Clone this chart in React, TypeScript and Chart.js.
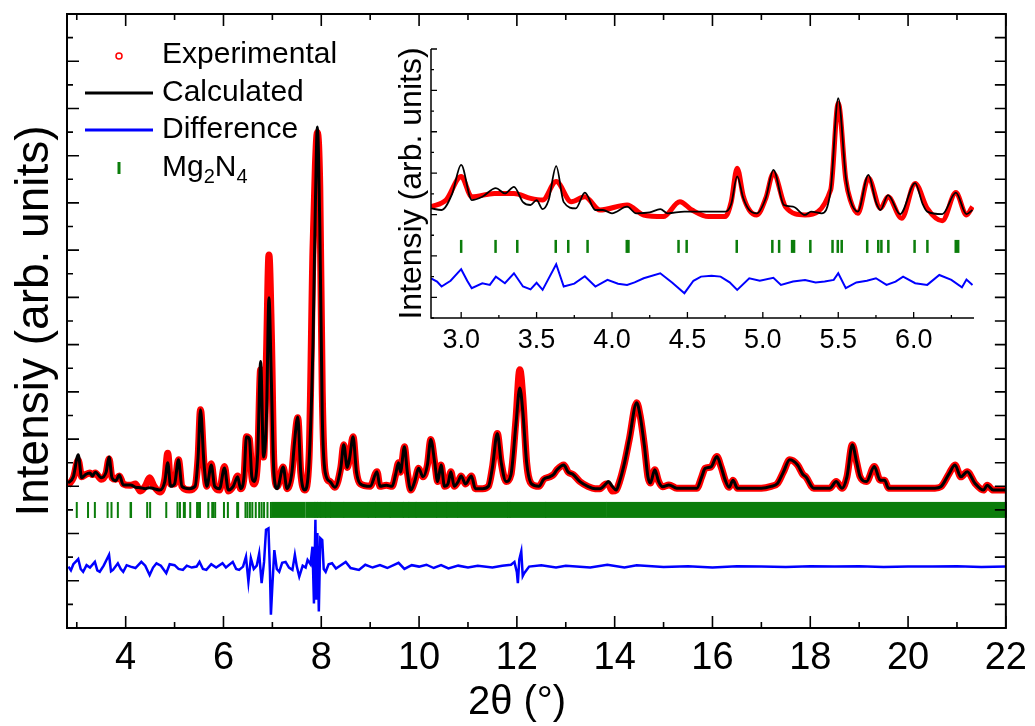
import React, { useEffect, useRef } from 'react';
import { Chart, registerables } from 'chart.js';

Chart.register(...registerables);

const FONT_FAMILY = '"Liberation Sans", Arial, Helvetica, sans-serif';
const RED = '#ff0000';
const BLACK = '#000000';
const BLUE = '#0000ff';
const GREEN = '#0b7d0b';

// ---------------- main pattern ----------------
const mainTheta = [
  2.82, 2.93, 3.03, 3.10, 3.18, 3.27, 3.32, 3.38, 3.50, 3.60,
  3.66, 3.72, 3.80, 3.87, 3.95, 4.10, 4.20, 4.30, 4.40, 4.49,
  4.58, 4.70, 4.80, 4.86, 4.92, 5.00, 5.08, 5.15, 5.30, 5.42,
  5.48, 5.53, 5.60, 5.66, 5.75, 5.82, 5.92, 6.02, 6.10, 6.20,
  6.29, 6.35, 6.42, 6.47, 6.53, 6.58, 6.63, 6.70, 6.76, 6.82,
  6.88, 6.93, 6.98, 7.03, 7.10, 7.22, 7.30, 7.40, 7.45, 7.52,
  7.58, 7.66, 7.75, 7.83, 7.88, 7.92, 7.97, 8.02, 8.08, 8.18,
  8.28, 8.40, 8.46, 8.53, 8.58, 8.65, 8.72, 8.80, 9.00, 9.14,
  9.20, 9.33, 9.45, 9.52, 9.58, 9.62, 9.70, 9.76, 9.83, 9.91,
  9.99, 10.08, 10.17, 10.24, 10.32, 10.38, 10.45, 10.52, 10.59, 10.65,
  10.72, 10.80, 10.86, 10.95, 11.07, 11.15, 11.30, 11.42, 11.50, 11.60,
  11.68, 11.78, 11.88, 11.98, 12.06, 12.12, 12.20, 12.30, 12.45, 12.55,
  12.67, 12.75, 12.82, 12.96, 13.05, 13.15, 13.29, 13.45, 13.60, 13.70,
  13.82, 13.87, 13.95, 14.03, 14.10, 14.20, 14.30, 14.45, 14.52, 14.61,
  14.68, 14.73, 14.82, 14.90, 14.98, 15.11, 15.27, 15.50, 15.68, 15.78,
  15.85, 15.97, 16.09, 16.18, 16.26, 16.34, 16.42, 16.51, 16.80, 17.00,
  17.20, 17.33, 17.45, 17.58, 17.74, 17.85, 17.91, 18.07, 18.40, 18.53,
  18.65, 18.75, 18.86, 18.95, 19.02, 19.15, 19.31, 19.43, 19.52, 19.60,
  20.00, 20.30, 20.55, 20.67, 20.84, 20.96, 21.08, 21.21, 21.37, 21.54,
  21.62, 21.74, 22.00,
];

const mainCalc = [
  3.07, 3.20, 3.67, 3.18, 3.25, 3.28, 3.22, 3.30, 3.18, 3.30,
  3.62, 3.18, 3.12, 3.24, 3.03, 3.03, 2.98, 2.97, 2.95, 2.97,
  2.95, 2.92, 3.10, 3.50, 3.00, 3.05, 3.56, 3.00, 2.95, 3.00,
  3.60, 4.62, 3.50, 3.00, 3.45, 3.00, 2.95, 3.39, 2.92, 3.00,
  3.20, 2.95, 3.20, 4.05, 4.00, 3.20, 3.10, 3.70, 5.64, 3.62,
  4.50, 6.99, 5.20, 3.30, 2.95, 3.41, 2.95, 3.30, 3.90, 4.47,
  3.30, 2.92, 3.50, 6.00, 9.00, 10.61, 8.50, 4.50, 3.30, 3.10,
  2.98, 3.40, 3.88, 3.40, 3.60, 4.05, 3.30, 3.05, 3.00, 3.31,
  3.00, 3.02, 3.00, 3.25, 3.50, 3.30, 3.84, 3.30, 2.92, 3.10,
  3.38, 3.20, 3.45, 3.99, 3.50, 3.10, 3.45, 3.00, 3.05, 3.31,
  3.00, 3.10, 3.22, 3.05, 3.22, 2.95, 2.95, 3.00, 3.40, 4.12,
  3.50, 3.10, 3.25, 4.30, 5.08, 4.60, 3.50, 3.05, 3.00, 3.15,
  3.20, 3.25, 3.35, 3.45, 3.30, 3.25, 3.10, 3.00, 2.95, 2.95,
  3.05, 3.10, 3.00, 2.92, 3.10, 3.49, 4.00, 4.77, 4.50, 3.84,
  3.20, 3.07, 3.35, 3.10, 2.99, 3.03, 2.96, 2.96, 2.96, 3.20,
  3.38, 3.41, 3.63, 3.40, 3.13, 2.98, 3.13, 2.96, 2.96, 2.96,
  3.00, 3.06, 3.30, 3.56, 3.45, 3.25, 3.20, 2.96, 2.96, 3.10,
  2.96, 3.20, 3.88, 3.50, 3.20, 3.10, 3.42, 3.13, 3.13, 2.96,
  2.96, 2.96, 2.96, 2.99, 3.27, 3.45, 3.20, 3.31, 3.06, 2.92,
  3.02, 2.92, 2.92,
];

const mainExp = [
  3.02, 3.18, 3.55, 3.20, 3.25, 3.28, 3.25, 3.28, 3.15, 3.28,
  3.58, 3.18, 3.15, 3.22, 3.05, 3.02, 3.05, 2.90, 3.00, 3.18,
  3.00, 2.88, 3.15, 3.70, 3.05, 3.05, 3.56, 3.00, 2.92, 3.00,
  3.60, 4.62, 3.50, 3.00, 3.48, 3.00, 2.92, 3.42, 2.90, 3.00,
  3.22, 2.95, 3.20, 4.05, 4.00, 3.20, 3.05, 3.60, 5.47, 3.62,
  5.80, 7.90, 6.20, 3.50, 3.00, 3.41, 2.95, 3.30, 3.90, 4.45,
  3.30, 2.92, 3.60, 8.00, 9.80, 10.49, 9.30, 5.00, 3.30, 3.10,
  2.98, 3.40, 3.88, 3.40, 3.60, 4.05, 3.30, 3.05, 3.00, 3.31,
  3.00, 3.02, 3.00, 3.25, 3.50, 3.30, 3.84, 3.30, 2.92, 3.10,
  3.38, 3.20, 3.45, 3.99, 3.50, 3.10, 3.45, 3.00, 3.05, 3.31,
  3.00, 3.10, 3.22, 3.05, 3.22, 2.95, 2.95, 3.00, 3.40, 4.12,
  3.50, 3.10, 3.25, 4.40, 5.47, 4.90, 3.50, 3.05, 3.00, 3.15,
  3.20, 3.25, 3.35, 3.45, 3.30, 3.25, 3.10, 3.00, 2.95, 2.95,
  3.05, 3.05, 2.90, 2.92, 3.10, 3.49, 4.00, 4.77, 4.50, 3.84,
  3.20, 3.07, 3.35, 3.10, 2.99, 3.03, 2.96, 2.96, 2.96, 3.20,
  3.38, 3.41, 3.63, 3.40, 3.13, 2.98, 3.13, 2.96, 2.96, 2.96,
  3.00, 3.06, 3.30, 3.56, 3.45, 3.25, 3.20, 2.96, 2.96, 3.10,
  2.96, 3.20, 3.88, 3.50, 3.20, 3.10, 3.42, 3.13, 3.13, 2.96,
  2.96, 2.96, 2.96, 2.99, 3.27, 3.45, 3.20, 3.31, 3.06, 2.92,
  3.02, 2.92, 2.92,
];

const diffTheta = [
  2.83, 2.88, 2.93, 3.03, 3.08, 3.13, 3.20, 3.27, 3.37, 3.42,
  3.47, 3.55, 3.66, 3.70, 3.74, 3.84, 3.90, 3.95, 4.02, 4.10,
  4.20, 4.32, 4.40, 4.49, 4.56, 4.63, 4.72, 4.83, 4.90, 5.00,
  5.08, 5.17, 5.25, 5.35, 5.45, 5.51, 5.58, 5.65, 5.75, 5.85,
  5.98, 6.05, 6.19, 6.26, 6.32, 6.40, 6.46, 6.51, 6.56, 6.62,
  6.68, 6.73, 6.78, 6.83, 6.87, 6.92, 6.95, 6.97, 7.00, 7.04,
  7.09, 7.14, 7.20, 7.27, 7.34, 7.41, 7.46, 7.50, 7.55, 7.62,
  7.68, 7.72, 7.78, 7.82, 7.85, 7.88, 7.90, 7.92, 7.95, 7.98,
  8.02, 8.05, 8.09, 8.15, 8.22, 8.30, 8.40, 8.50, 8.60, 8.77,
  8.90, 9.05, 9.20, 9.35, 9.58, 9.70, 9.85, 10.00, 10.15, 10.30,
  10.45, 10.60, 10.80, 11.00, 11.20, 11.50, 11.70, 11.88, 11.95, 12.00,
  12.02, 12.05, 12.09, 12.12, 12.15, 12.25, 12.50, 12.80, 13.00, 13.50,
  13.85, 14.20, 14.45, 15.00, 15.50, 16.00, 16.50, 17.00, 17.50, 18.00,
  18.50, 19.00, 19.50, 20.00, 20.50, 21.00, 21.50, 22.00,
];

const diffValues = [
  1.30, 1.22, 1.35, 1.46, 1.25, 1.19, 1.33, 1.28, 1.40, 1.22,
  1.19, 1.32, 1.55, 1.20, 1.23, 1.37, 1.25, 1.19, 1.33, 1.30,
  1.27, 1.40, 1.32, 1.12, 1.28, 1.37, 1.32, 1.16, 1.35, 1.33,
  1.25, 1.23, 1.32, 1.28, 1.30, 1.40, 1.25, 1.23, 1.35, 1.28,
  1.37, 1.28, 1.40, 1.25, 1.23, 1.30, 1.51, 0.98, 1.48, 1.25,
  1.32, 1.58, 0.95, 1.40, 2.08, 2.11, 1.20, 0.28, 0.90, 1.65,
  1.25, 1.19, 1.38, 1.40, 1.28, 1.23, 1.55, 1.30, 1.09, 1.32,
  1.28, 1.44, 1.35, 1.72, 0.52, 2.29, 0.60, 2.01, 0.35, 1.90,
  1.86, 1.25, 1.19, 1.35, 1.37, 1.26, 1.33, 1.40, 1.27, 1.23,
  1.34, 1.28, 1.33, 1.27, 1.38, 1.25, 1.33, 1.30, 1.34, 1.27,
  1.33, 1.26, 1.32, 1.28, 1.32, 1.28, 1.32, 1.34, 1.40, 1.18,
  0.95, 1.45, 1.62, 1.10, 1.16, 1.30, 1.33, 1.28, 1.32, 1.28,
  1.34, 1.28, 1.33, 1.29, 1.31, 1.28, 1.31, 1.30, 1.29, 1.31,
  1.30, 1.31, 1.29, 1.30, 1.30, 1.31, 1.29, 1.30,
];

// Bragg reflection positions (isolated marks) and dense reflection ranges
const reflectionTheta = [
  3.00, 3.23, 3.37, 3.63, 3.71, 3.84, 4.10, 4.11, 4.44, 4.50,
  4.83, 5.06, 5.11, 5.19, 5.21, 5.32, 5.46, 5.50, 5.52, 5.69,
  5.77, 5.79, 5.83, 6.01, 6.09, 6.28, 6.30, 6.45, 6.49, 6.54,
  6.59, 6.66, 6.73, 6.78, 6.83, 6.90, 6.97,
];
const reflectionBands = [
  [7.00, 7.66], [7.70, 7.86], [7.88, 7.91], [7.93, 7.98], [8.00, 8.08],
  [8.10, 8.18], [8.20, 8.45], [8.47, 8.95], [8.97, 9.10], [9.12, 9.40],
  [9.42, 9.67], [9.69, 9.78], [9.80, 9.93], [9.95, 10.35], [10.37, 10.56],
  [10.58, 10.78], [10.80, 11.80], [11.82, 11.85], [11.87, 12.58], [12.60, 13.82],
  [13.85, 22.00],
];
const MAIN_TICK_ROW = 2.5;
const mainXLabels = [4, 6, 8, 10, 12, 14, 16, 18, 20, 22];
const legendLabels = ['Experimental', 'Calculated', 'Difference', 'Mg\u2082N\u2084'];

// ---------------- inset (low-angle zoom) ----------------
const insetCalcTheta = [
  2.80, 2.87, 2.94, 3.00, 3.07, 3.14, 3.23, 3.29, 3.35, 3.41,
  3.46, 3.50, 3.54, 3.58, 3.63, 3.68, 3.76, 3.82, 3.89, 3.94,
  4.00, 4.10, 4.16, 4.25, 4.32, 4.37, 4.48, 4.61, 4.75, 4.79,
  4.83, 4.87, 4.91, 4.96, 5.02, 5.07, 5.14, 5.20, 5.28, 5.32,
  5.39, 5.45, 5.50, 5.55, 5.58, 5.63, 5.70, 5.75, 5.78, 5.83,
  5.91, 6.01, 6.06, 6.09, 6.19, 6.28, 6.35, 6.39,
];
const insetCalc = [
  2.15, 2.11, 2.50, 3.20, 2.35, 2.43, 2.64, 2.51, 2.67, 2.30,
  2.23, 2.35, 2.13, 2.35, 3.17, 2.30, 2.15, 2.53, 2.11, 2.11,
  2.03, 2.19, 2.03, 2.05, 2.13, 2.03, 2.07, 2.07, 2.07, 2.25,
  2.92, 2.40, 2.11, 2.03, 2.40, 3.08, 2.23, 2.19, 1.99, 2.07,
  2.03, 2.60, 4.81, 2.90, 2.35, 2.07, 2.96, 2.30, 2.11, 2.47,
  2.01, 2.76, 2.25, 2.07, 2.01, 2.53, 2.01, 2.11,
];
const insetExpTheta = [
  2.80, 2.90, 3.00, 3.07, 3.22, 3.35, 3.46, 3.54, 3.63, 3.73,
  3.82, 3.92, 4.10, 4.21, 4.34, 4.45, 4.53, 4.64, 4.75, 4.79,
  4.83, 4.87, 4.91, 4.96, 5.02, 5.07, 5.15, 5.28, 5.45, 5.50,
  5.55, 5.58, 5.63, 5.70, 5.78, 5.83, 5.92, 6.01, 6.09, 6.19,
  6.28, 6.35, 6.39,
];
const insetExp = [
  2.19, 2.35, 2.92, 2.43, 2.51, 2.51, 2.39, 2.35, 2.80, 2.31,
  2.43, 2.11, 2.23, 1.99, 1.95, 2.31, 2.11, 1.95, 1.95, 2.30,
  3.12, 2.45, 2.11, 1.99, 2.40, 3.00, 2.19, 1.99, 2.60, 4.69,
  2.85, 2.35, 2.03, 2.88, 2.15, 2.43, 1.91, 2.75, 2.15, 1.85,
  2.53, 1.99, 2.19,
];
const insetDiffTheta = [
  2.80, 2.84, 2.87, 2.93, 3.00, 3.04, 3.07, 3.14, 3.19, 3.23,
  3.29, 3.35, 3.41, 3.46, 3.50, 3.54, 3.63, 3.68, 3.75, 3.82,
  3.89, 3.97, 4.04, 4.10, 4.15, 4.21, 4.32, 4.40, 4.48, 4.54,
  4.59, 4.66, 4.72, 4.78, 4.83, 4.91, 4.98, 5.07, 5.12, 5.20,
  5.28, 5.35, 5.41, 5.47, 5.50, 5.55, 5.62, 5.69, 5.75, 5.82,
  5.88, 5.93, 6.01, 6.09, 6.17, 6.25, 6.32, 6.35, 6.39,
];
const insetDiff = [
  0.46, 0.38, 0.26, 0.40, 0.68, 0.40, 0.22, 0.34, 0.30, 0.50,
  0.34, 0.58, 0.26, 0.19, 0.35, 0.18, 0.80, 0.26, 0.33, 0.51,
  0.26, 0.42, 0.33, 0.30, 0.36, 0.46, 0.58, 0.35, 0.10, 0.40,
  0.50, 0.52, 0.50, 0.36, 0.18, 0.46, 0.40, 0.47, 0.30, 0.38,
  0.42, 0.36, 0.38, 0.42, 0.58, 0.22, 0.36, 0.40, 0.46, 0.30,
  0.38, 0.50, 0.34, 0.30, 0.54, 0.42, 0.24, 0.43, 0.30,
];
const insetReflections = [
  3.000, 3.228, 3.372, 3.627, 3.710, 3.838, 4.098, 4.109, 4.441, 4.495,
  4.827, 5.063, 5.108, 5.194, 5.207, 5.315, 5.462, 5.497, 5.523, 5.692,
  5.765, 5.786, 5.832, 6.006, 6.091, 6.279, 6.295,
];
const insetXLabels = [3.0, 3.5, 4.0, 4.5, 5.0, 5.5, 6.0];
const INSET_TICK_ROW = 1.23;

const pts = (xs: number[], ys: number[]) => xs.map((x, i) => ({ x, y: ys[i] }));
const font = (size: number) => `${size}px ${FONT_FAMILY}`;

function drawRich(ctx: CanvasRenderingContext2D, text: string, x: number, y: number, size: number) {
  // splits text into normal runs and subscript-digit runs
  const runs: { t: string; sub: boolean }[] = [];
  for (const ch of text) {
    const c = ch.charCodeAt(0);
    const sub = c >= 0x2080 && c <= 0x2089;
    const t = sub ? String(c - 0x2080) : ch;
    const last = runs[runs.length - 1];
    if (last && last.sub === sub) last.t += t;
    else runs.push({ t, sub });
  }
  let cx = x;
  for (const r of runs) {
    ctx.font = font(r.sub ? Math.round(size * 0.68) : size);
    ctx.fillText(r.t, cx, r.sub ? y + size * 0.33 : y);
    cx += ctx.measureText(r.t).width;
  }
}

const mainDecor = {
  id: 'mainDecor',
  beforeDatasetsDraw(chart: any) {
    const { ctx, scales } = chart;
    const xs = scales.x;
    const ys = scales.y;
    const yc = ys.getPixelForValue(MAIN_TICK_ROW);
    ctx.save();
    ctx.fillStyle = GREEN;
    for (const [a, b] of reflectionBands) {
      const x0 = xs.getPixelForValue(a) - 1;
      const x1 = xs.getPixelForValue(b) + 1;
      ctx.fillRect(x0, yc - 8, x1 - x0, 16);
    }
    ctx.restore();
  },
  afterDraw(chart: any) {
    const { ctx, chartArea: a, scales } = chart;
    const xs = scales.x;
    const ys = scales.y;
    ctx.save();
    ctx.strokeStyle = BLACK;
    ctx.lineWidth = 2;
    ctx.strokeRect(a.left, a.top, a.right - a.left, a.bottom - a.top);
    ctx.lineWidth = 1.6;
    ctx.beginPath();
    for (let k = Math.ceil(xs.min); k <= Math.floor(xs.max); k++) {
      const px = xs.getPixelForValue(k);
      const len = k % 2 === 0 ? 12 : 6;
      ctx.moveTo(px, a.bottom);
      ctx.lineTo(px, a.bottom - len);
      ctx.moveTo(px, a.top);
      ctx.lineTo(px, a.top + len);
    }
    for (let k = Math.ceil(ys.min * 2); k <= Math.floor(ys.max * 2); k++) {
      const py = ys.getPixelForValue(k / 2);
      const len = k % 2 === 0 ? 12 : 6;
      ctx.moveTo(a.left, py);
      ctx.lineTo(a.left + len, py);
      ctx.moveTo(a.right, py);
      ctx.lineTo(a.right - 11, py);
    }
    ctx.stroke();

    // legend
    const rows = [55, 93, 130, 168];
    const sx0 = 85;
    const sx1 = 153;
    const tx = 162;
    ctx.lineWidth = 1.5;
    ctx.strokeStyle = RED;
    ctx.beginPath();
    ctx.arc((sx0 + sx1) / 2, rows[0] + 1, 3, 0, Math.PI * 2);
    ctx.stroke();
    ctx.lineWidth = 3;
    ctx.strokeStyle = BLACK;
    ctx.beginPath();
    ctx.moveTo(sx0, rows[1]);
    ctx.lineTo(sx1, rows[1]);
    ctx.stroke();
    ctx.strokeStyle = BLUE;
    ctx.beginPath();
    ctx.moveTo(sx0, rows[2]);
    ctx.lineTo(sx1, rows[2]);
    ctx.stroke();
    ctx.strokeStyle = GREEN;
    ctx.beginPath();
    ctx.moveTo((sx0 + sx1) / 2, rows[3] - 6);
    ctx.lineTo((sx0 + sx1) / 2, rows[3] + 6);
    ctx.stroke();
    ctx.fillStyle = BLACK;
    ctx.textBaseline = 'middle';
    ctx.textAlign = 'left';
    legendLabels.forEach((t, i) => drawRich(ctx, t, tx, rows[i], 30));

    // x axis title
    ctx.textAlign = 'center';
    ctx.font = font(40);
    ctx.fillText('2\u03b8 (\u00b0)', 517, 703);
    ctx.restore();
  },
};

const insetDecor = {
  id: 'insetDecor',
  afterDraw(chart: any) {
    const { ctx, chartArea: a, scales } = chart;
    const xs = scales.x;
    const ys = scales.y;
    ctx.save();
    ctx.strokeStyle = BLACK;
    ctx.lineWidth = 1.5;
    ctx.beginPath();
    ctx.moveTo(a.left, a.top);
    ctx.lineTo(a.left, a.bottom);
    ctx.lineTo(a.right, a.bottom);
    ctx.stroke();
    ctx.lineWidth = 1.3;
    ctx.beginPath();
    for (let k = Math.ceil(xs.min * 4); k <= Math.floor(xs.max * 4); k++) {
      const px = xs.getPixelForValue(k / 4);
      const len = k % 2 === 0 ? 6 : 3;
      ctx.moveTo(px, a.bottom);
      ctx.lineTo(px, a.bottom - len);
    }
    for (let k = Math.ceil(ys.min * 2); k <= Math.floor(ys.max * 2); k++) {
      const py = ys.getPixelForValue(k / 2);
      const len = k % 2 === 0 ? 6 : 3;
      ctx.moveTo(a.left, py);
      ctx.lineTo(a.left + len, py);
    }
    ctx.stroke();
    ctx.restore();
  },
};

function buildMain(): any {
  return {
    type: 'scatter',
    data: {
      datasets: [
        {
          label: 'Calculated', data: pts(mainTheta, mainCalc), showLine: true,
          borderColor: BLACK, borderWidth: 3, pointRadius: 0,
          cubicInterpolationMode: 'monotone', order: 1,
        },
        {
          label: 'Experimental', data: pts(mainTheta, mainExp), showLine: true,
          borderColor: RED, borderWidth: 7, pointRadius: 0,
          cubicInterpolationMode: 'monotone', order: 3,
        },
        {
          label: 'Difference', data: pts(diffTheta, diffValues), showLine: true,
          borderColor: BLUE, borderWidth: 2.5, pointRadius: 0, order: 2,
        },
        {
          label: 'Mg\u2082N\u2084', data: reflectionTheta.map((x) => ({ x, y: MAIN_TICK_ROW })),
          showLine: false, pointStyle: 'line', pointRotation: 90, pointRadius: 8,
          pointBorderWidth: 2, borderColor: GREEN, pointBorderColor: GREEN, order: 2,
        },
      ],
    },
    options: {
      animation: false, responsive: false, devicePixelRatio: 1, events: [],
      layout: { padding: { top: 14, right: 25, left: 0, bottom: 0 } },
      plugins: { legend: { display: false }, tooltip: { enabled: false } },
      scales: {
        x: {
          type: 'linear', min: 2.8, max: 22,
          grid: { display: false, drawTicks: false }, border: { display: false },
          afterBuildTicks: (s: any) => { s.ticks = mainXLabels.map((v) => ({ value: v })); },
          ticks: {
            autoSkip: false, maxRotation: 0, minRotation: 0, padding: 8,
            color: BLACK, font: { family: FONT_FAMILY, size: 38 },
            callback: (v: number) => String(Math.round(v)),
          },
          afterFit: (s: any) => { s.height = 98; },
        },
        y: {
          type: 'linear', min: 0, max: 13,
          grid: { display: false, drawTicks: false }, border: { display: false },
          ticks: { display: false },
          title: {
            display: true, text: 'Intensiy (arb. units)', color: BLACK,
            font: { family: FONT_FAMILY, size: 46 }, padding: { top: 8, bottom: 0 },
          },
          afterFit: (s: any) => { s.width = 67; },
        },
      },
    },
    plugins: [mainDecor],
  };
}

function buildInset(): any {
  return {
    type: 'scatter',
    data: {
      datasets: [
        {
          label: 'Calculated', data: pts(insetCalcTheta, insetCalc), showLine: true,
          borderColor: BLACK, borderWidth: 1.8, pointRadius: 0,
          cubicInterpolationMode: 'monotone', order: 1,
        },
        {
          label: 'Experimental', data: pts(insetExpTheta, insetExp), showLine: true,
          borderColor: RED, borderWidth: 5, pointRadius: 0,
          cubicInterpolationMode: 'monotone', order: 3,
        },
        {
          label: 'Difference', data: pts(insetDiffTheta, insetDiff), showLine: true,
          borderColor: BLUE, borderWidth: 2, pointRadius: 0, order: 2,
        },
        {
          label: 'Mg\u2082N\u2084', data: insetReflections.map((x) => ({ x, y: INSET_TICK_ROW })),
          showLine: false, pointStyle: 'line', pointRotation: 90, pointRadius: 6.5,
          pointBorderWidth: 2.5, borderColor: GREEN, pointBorderColor: GREEN, order: 2,
        },
      ],
    },
    options: {
      animation: false, responsive: false, devicePixelRatio: 1, events: [],
      layout: { padding: { top: 19, right: 36, left: 0, bottom: 0 } },
      plugins: { legend: { display: false }, tooltip: { enabled: false } },
      scales: {
        x: {
          type: 'linear', min: 2.8, max: 6.4,
          grid: { display: false, drawTicks: false }, border: { display: false },
          afterBuildTicks: (s: any) => { s.ticks = insetXLabels.map((v) => ({ value: v })); },
          ticks: {
            autoSkip: false, maxRotation: 0, minRotation: 0, padding: 6,
            color: BLACK, font: { family: FONT_FAMILY, size: 27 },
            callback: (v: number) => Number(v).toFixed(1),
          },
          afterFit: (s: any) => { s.height = 52; },
        },
        y: {
          type: 'linear', min: -0.5, max: 6,
          grid: { display: false, drawTicks: false }, border: { display: false },
          ticks: { display: false },
          title: {
            display: true, text: 'Intensiy (arb. units)', color: BLACK,
            font: { family: FONT_FAMILY, size: 32 }, padding: { top: 13, bottom: 0 },
          },
          afterFit: (s: any) => { s.width = 51; },
        },
      },
    },
    plugins: [insetDecor],
  };
}

export default function App() {
  const mainRef = useRef<HTMLCanvasElement>(null);
  const insetRef = useRef<HTMLCanvasElement>(null);

  useEffect(() => {
    const main = new Chart(mainRef.current as HTMLCanvasElement, buildMain());
    const inset = new Chart(insetRef.current as HTMLCanvasElement, buildInset());
    return () => {
      main.destroy();
      inset.destroy();
    };
  }, []);

  return (
    <div style={{ position: 'absolute', left: 0, top: 0, width: 1035, height: 726, background: '#ffffff', overflow: 'hidden' }}>
      <canvas ref={mainRef} width={1035} height={726} style={{ position: 'absolute', left: 0, top: 0 }} />
      <canvas ref={insetRef} width={630} height={340} style={{ position: 'absolute', left: 380, top: 30 }} />
    </div>
  );
}
